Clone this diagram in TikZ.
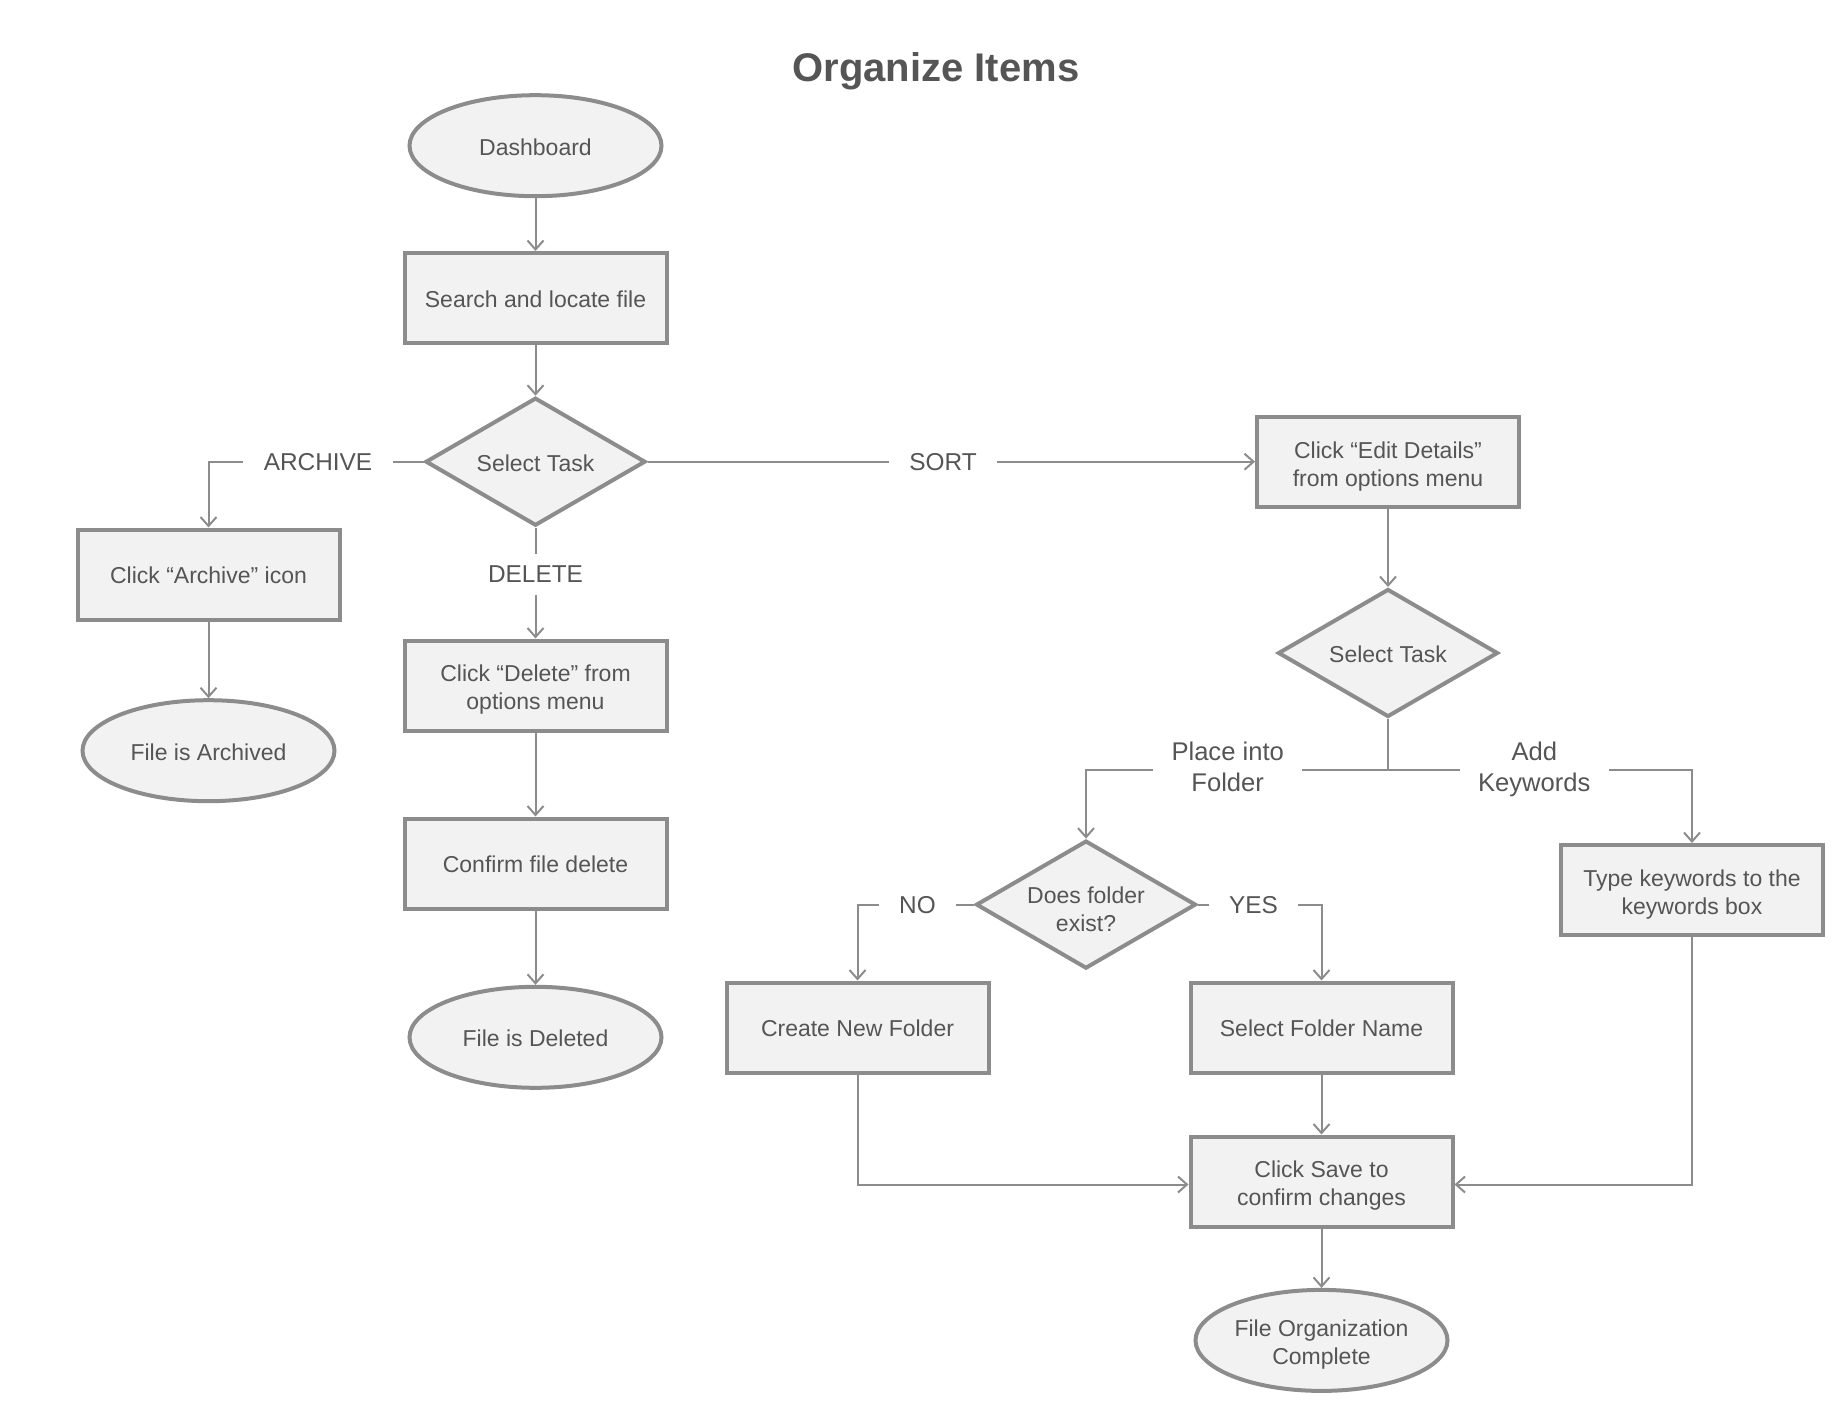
\documentclass[tikz,border=0pt]{standalone}
\usepackage{fontspec}
\setmainfont{Liberation Sans}
\usetikzlibrary{shapes.geometric,arrows.meta}
\definecolor{txt}{HTML}{555555}
\definecolor{bd}{HTML}{8C8C8C}
\definecolor{fl}{HTML}{F2F2F2}
\begin{document}
\begin{tikzpicture}[x=0.5pt,y=-0.5pt,
 nodefont/.style={text=txt,font=\fontsize{11.5}{14}\selectfont},
 box/.style={draw=bd,fill=fl,line width=2pt,minimum width=131pt,minimum height=45pt,inner sep=0pt},
 oval/.style={ellipse,draw=bd,fill=fl,line width=2pt,minimum width=126pt,minimum height=50.5pt,inner sep=0pt},
 dia/.style={diamond,draw=bd,fill=fl,line width=2pt,minimum width=110pt,minimum height=64pt,aspect=1.72,inner sep=0pt},
 tone/.style={label={[nodefont,align=center,inner sep=0pt,yshift=-0.6pt]center:#1}},
 ttwo/.style={label={[nodefont,align=center,inner sep=0pt,yshift=-2.2pt]center:#1}},
 lbl/.style={text=txt,font=\fontsize{12.2}{15}\selectfont,inner xsep=10pt,inner ysep=6pt,align=center},
 lbltwo/.style={text=txt,font=\fontsize{12.8}{15.3}\selectfont,inner xsep=9pt,inner ysep=4pt,align=center},
 conn/.style={draw=bd,line width=1pt},
 arr/.style={conn,-{Straight Barb[length=4.5pt,width=8pt]}}
]
\useasboundingbox (0,0) rectangle (1842,1412);
\node[text=txt,font=\fontsize{20}{24}\selectfont\bfseries] (title) at (936,71.5) {Organize Items};

\node[oval,tone={Dashboard}] (dash) at (535.5,145.7) {};
\node[box,tone={Search and locate file}] (search) at (535.5,298) {};
\node[dia,tone={Select Task}] (sel1) at (535.5,461.7) {};
\node[lbl] (arch) at (318,461.7) {ARCHIVE};
\node[box,tone={Click “Archive” icon}] (archbox) at (208.5,574.5) {};
\node[oval,tone={File is Archived}] (archived) at (208.5,750.7) {};
\node[lbl] (dellbl) at (535.5,574.5) {DELETE};
\node[box,ttwo={Click “Delete” from\\options menu}] (delbox) at (535.5,685.5) {};
\node[box,tone={Confirm file delete}] (confirm) at (535.5,863.5) {};
\node[oval,tone={File is Deleted}] (deleted) at (535.5,1037.3) {};

\node[lbl] (sort) at (943,461.7) {SORT};
\node[box,ttwo={Click “Edit Details”\\from options menu}] (edit) at (1388,461.7) {};
\node[dia,tone={Select Task}] (sel2) at (1388,653) {};
\coordinate (br) at (1388,769.5);
\node[lbltwo] (place) at (1227.7,767) {Place into\\Folder};
\node[lbltwo] (addk) at (1534.3,769.5) {Add\\Keywords};
\node[dia,ttwo={Does folder\\exist?}] (dfe) at (1086,904.6) {};
\node[lbl] (no) at (917.5,904.6) {NO};
\node[lbl] (yes) at (1253.5,904.6) {YES};
\node[box,tone={Create New Folder}] (cnf) at (857.5,1027.5) {};
\node[box,tone={Select Folder Name}] (sfn) at (1321.5,1027.5) {};
\node[box,ttwo={Click Save to\\confirm changes}] (save) at (1321.5,1181.5) {};
\node[box,ttwo={Type keywords to the\\keywords box}] (kw) at (1692,890) {};
\node[oval,ttwo={File Organization\\Complete}] (foc) at (1321.5,1340.4) {};

\draw[arr] (dash) -- (search);
\draw[arr] (search) -- (sel1);
\draw[conn] (sel1.west) -- (arch.east);
\draw[arr] (arch.west) -| (archbox.north);
\draw[arr] (archbox) -- (archived);
\draw[conn] (sel1.south) -- (dellbl.north);
\draw[arr] (dellbl.south) -- (delbox.north);
\draw[arr] (delbox) -- (confirm);
\draw[arr] (confirm) -- (deleted);
\draw[conn] (sel1.east) -- (sort.west);
\draw[arr] (sort.east) -- (edit.west);
\draw[arr] (edit) -- (sel2);
\draw[conn] (sel2.south) -- (br);
\draw[conn] (br) -- (place.east |- br);
\draw[arr] (place.west |- br) -| (dfe.north);
\draw[conn] (br) -- (addk.west |- br);
\draw[arr] (addk.east |- br) -| (kw.north);
\draw[conn] (dfe.west) -- (no.east);
\draw[arr] (no.west) -| (cnf.north);
\draw[conn] (dfe.east) -- (yes.west);
\draw[arr] (yes.east) -| (sfn.north);
\draw[arr] (sfn) -- (save);
\draw[arr] (cnf.south) |- ([yshift=-1.5pt]save.west);
\draw[arr] (kw.south) |- ([yshift=-1.5pt]save.east);
\draw[arr] (save) -- (foc);
\end{tikzpicture}
\end{document}
